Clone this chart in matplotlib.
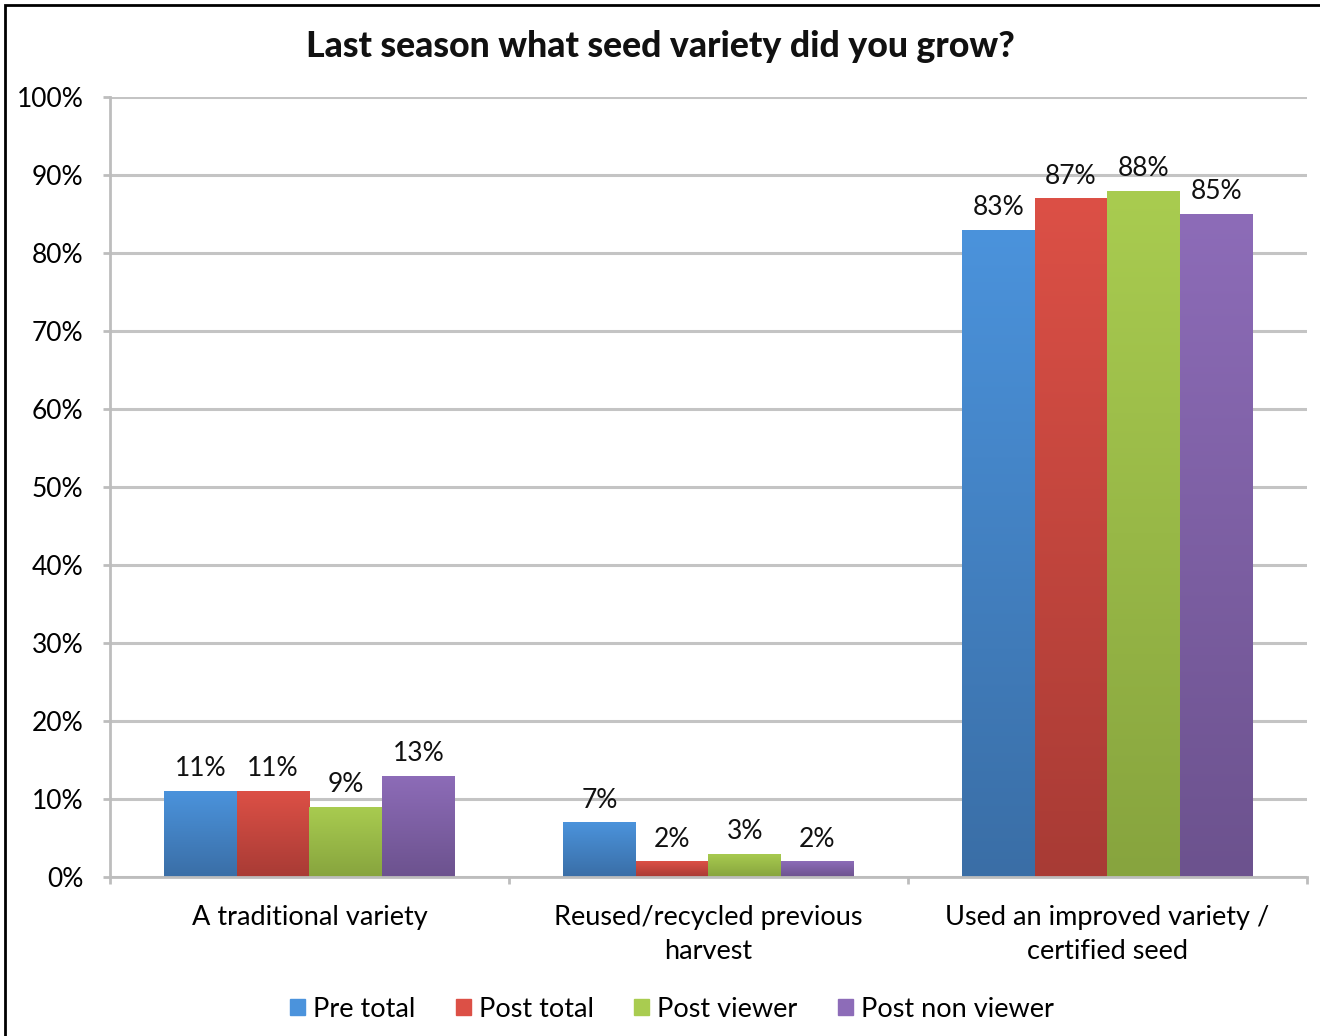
import numpy as np
import matplotlib.pyplot as plt
from matplotlib.patches import Rectangle
from matplotlib.colors import LinearSegmentedColormap

plt.rcParams['font.family'] = ['Lato', 'DejaVu Sans']

categories = ['A traditional variety', 'Reused/recycled previous\nharvest',
              'Used an improved variety /\ncertified seed']
series = ['Pre total', 'Post total', 'Post viewer', 'Post non viewer']
values = [
    [11, 7, 83],
    [11, 2, 87],
    [9, 3, 88],
    [13, 2, 85],
]
# (top colour, bottom colour) for the gradient fill
colors = [('#4b93dc', '#3a6ea6'), ('#dc5046', '#a83b35'),
          ('#a9cc50', '#87a43e'), ('#8d6cb8', '#6c528e')]

fig = plt.figure(figsize=(13.2, 10.36), dpi=100)
ax = fig.add_axes([0.0833, 0.1535, 0.9067, 0.7529])

x = np.arange(len(categories))
w = 0.182
grad = np.linspace(0, 1, 256).reshape(-1, 1)

for i, s in enumerate(series):
    pos = x + (i - 1.5) * w
    bars = ax.bar(pos, values[i], w, color=colors[i][0], label=s, zorder=2)
    cmap = LinearSegmentedColormap.from_list('g%d' % i, [colors[i][0], colors[i][1]])
    for b in bars:
        bx, by = b.get_x(), b.get_y()
        bw, bh = b.get_width(), b.get_height()
        im = ax.imshow(grad, cmap=cmap, aspect='auto', extent=(bx, bx + bw, by, by + bh),
                       zorder=2.5, origin='upper')
        im.set_clip_path(b)
    for p, v in zip(pos, values[i]):
        ax.annotate('%d%%' % v, (p, v), xytext=(0, 7), textcoords='offset points',
                    ha='center', va='bottom', fontsize=19, color='#111111')

ax.set_xlim(-0.5, 2.5)
ax.set_ylim(0, 100)
ax.set_yticks(range(0, 101, 10))
ax.set_yticklabels(['%d%%' % t for t in range(0, 101, 10)], fontsize=19)
ax.yaxis.grid(True, color='#c4c4c4', linewidth=2.2, zorder=0)
ax.set_axisbelow(True)

ax.set_xticks(x)
ax.set_xticklabels(categories, fontsize=19.5, linespacing=1.45)
ax.set_xticks([-0.5, 0.5, 1.5, 2.5], minor=True)
ax.tick_params(axis='x', which='major', length=0, pad=20)
ax.tick_params(axis='x', which='minor', length=5, width=2, color='#bdbdbd')
ax.tick_params(axis='y', length=5, width=2, color='#bdbdbd', pad=14)

for side in ['top', 'right']:
    ax.spines[side].set_visible(False)
for side in ['left', 'bottom']:
    ax.spines[side].set_color('#bdbdbd')
    ax.spines[side].set_linewidth(2)

fig.text(0.5, 0.955, 'Last season what seed variety did you grow?', ha='center', va='center',
         fontsize=25.7, fontweight='black', color='#111111')

handles = [Rectangle((0, 0), 1, 1, color=c[0]) for c in colors]
fig.legend(handles, series, loc='center', bbox_to_anchor=(0.509, 0.026), ncol=4,
           frameon=False, fontsize=19.5, handlelength=0.55, handleheight=0.55,
           handletextpad=0.3, columnspacing=1.5)

fig.patches.append(Rectangle((5 / 1320, -0.1), 1.2, 1 - 5 / 1036 + 0.1, transform=fig.transFigure,
                             fill=False, edgecolor='black', linewidth=2))

fig.savefig('out.png', dpi=100)
